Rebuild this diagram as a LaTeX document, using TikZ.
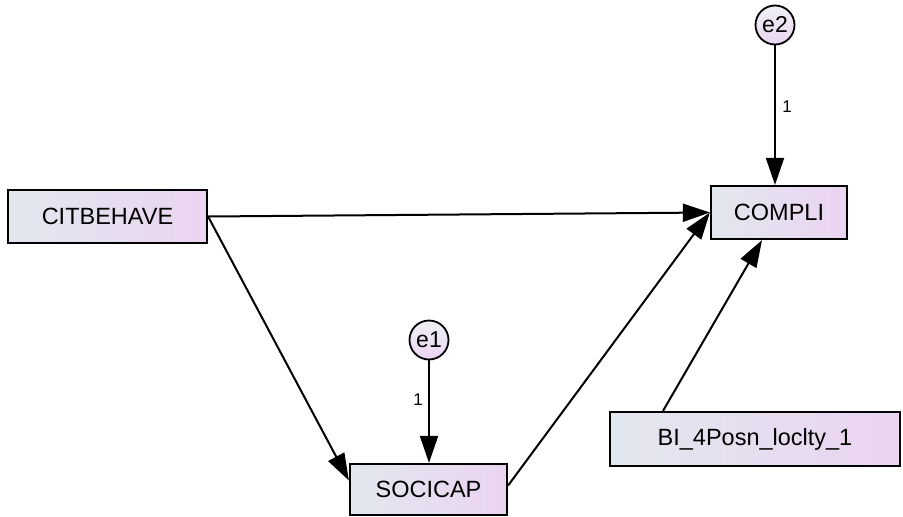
\documentclass[tikz,border=0pt]{standalone}
\usepackage{fontspec}
\setmainfont{Liberation Sans}
\usetikzlibrary{arrows.meta}
\definecolor{boxleft}{HTML}{E2E7EE}
\definecolor{boxright}{HTML}{EBD4F1}
\tikzset{
  varbox/.style={draw=black, line width=2.2pt, rectangle, inner sep=0pt,
    left color=boxleft, right color=boxright, font=\fontsize{23.5}{26}\selectfont},
  errvar/.style={draw=black, line width=1.8pt, circle, inner sep=0pt,
    minimum size=39pt, top color=boxleft!60!white, bottom color=boxright,
    font=\fontsize{23}{25}\selectfont},
  path/.style={line width=2pt, -{Triangle[length=27pt,width=18pt]}},
  weight/.style={font=\fontsize{17}{19}\selectfont}
}
\begin{document}
\begin{tikzpicture}[x=1pt,y=-1pt]
  \useasboundingbox (0,0) rectangle (903,517);
  % observed variables
  \node[varbox, minimum width=199pt, minimum height=53pt] (cit) at (107.5,216.5) {CITBEHAVE};
  \node[varbox, minimum width=136pt, minimum height=53pt] (compli) at (779,212.5) {COMPLI};
  \node[varbox, minimum width=157pt, minimum height=51pt] (soc) at (428.5,489.5) {SOCICAP};
  \node[varbox, minimum width=290pt, minimum height=54pt] (bi) at (755,439) {BI\_4Posn\_loclty\_1};
  % error terms
  \node[errvar] (e2) at (775,25) {e2};
  \node[errvar] (e1) at (429,340) {e1};
  % structural paths
  \draw[path] (cit.east) -- (compli.west);
  \draw[path] (cit.east) -- ([yshift=9pt]soc.west);
  \draw[path] ([yshift=4pt]soc.east) -- (compli.west);
  \draw[path] ([xshift=-92pt]bi.north) -- ([xshift=-17pt]compli.south);
  % error paths with fixed weights
  \draw[path] (e2.south) -- (e2.south |- compli.north);
  \draw[path] (e1.south) -- (e1.south |- soc.north);
  \node[weight] (w2) at (787,107) {1};
  \node[weight] (w1) at (418,400) {1};
\end{tikzpicture}
\end{document}
